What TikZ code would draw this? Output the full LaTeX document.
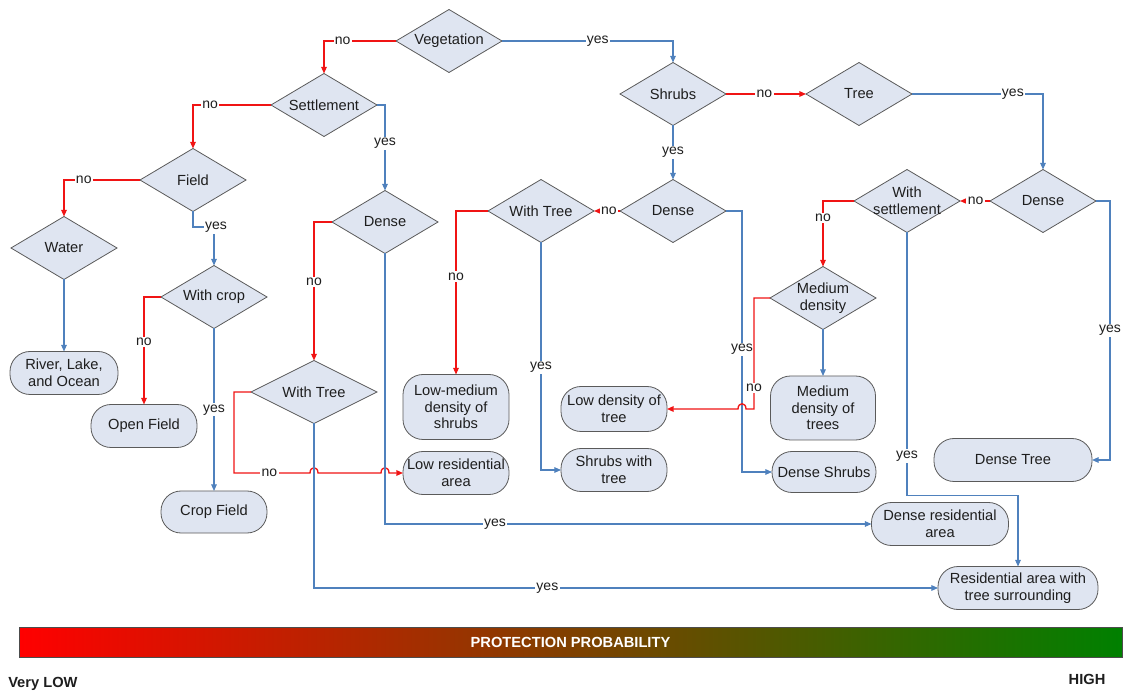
\documentclass[tikz,border=0pt]{standalone}
\usepackage{fontspec}
\setmainfont{Liberation Sans}
\usetikzlibrary{shapes.geometric,arrows.meta,calc}
\definecolor{yesblue}{RGB}{79,129,189}
\definecolor{nored}{RGB}{240,20,20}
\definecolor{boxfill}{RGB}{223,229,241}
\definecolor{boxline}{RGB}{90,90,90}
\definecolor{inkgray}{RGB}{30,30,30}
\definecolor{barred}{RGB}{255,0,0}
\definecolor{barmid}{RGB}{150,50,0}
\definecolor{bargreen}{RGB}{0,128,0}

\begin{document}
\begin{tikzpicture}[x=0.75pt,y=-0.75pt,
  every node/.style={text=inkgray, font=\fontsize{11}{12.5}\selectfont},
  decision/.style={diamond, draw=boxline, fill=boxfill, line width=0.6pt,
    minimum width=79.5pt, minimum height=47.25pt, inner sep=0pt, outer sep=0pt},
  widedecision/.style={decision, minimum width=94.5pt},
  dtext/.style={align=center, inner sep=0pt},
  outcome/.style={rectangle, rounded corners=15pt, draw=boxline, fill=boxfill,
    line width=0.6pt, align=center, inner sep=1pt, outer sep=0pt},
  yesline/.style={draw=yesblue, line width=0.9pt, -{Triangle[length=5pt,width=4.2pt]}},
  noline/.style={draw=nored, line width=1pt, -{Triangle[length=5pt,width=4.2pt]}},
  lab/.style={fill=white, inner sep=1pt, font=\fontsize{10.5}{12}\selectfont},
]
\useasboundingbox (0,0) rectangle (1125,691);

% ---------- decisions ----------
\node[decision] (veg) at (449,41) {};
\node[dtext] (veg-t) at (veg.center) {Vegetation};
\node[decision] (set) at (324,105) {};
\node[dtext] (set-t) at (set.center) {Settlement};
\node[decision] (field) at (193,180) {};
\node[dtext] (field-t) at (field.center) {Field};
\node[decision] (water) at (64,248) {};
\node[dtext] (water-t) at (water.center) {Water};
\node[decision] (crop) at (214,297) {};
\node[dtext] (crop-t) at (crop.center) {With crop};
\node[decision] (denseL) at (385,222) {};
\node[dtext] (denseL-t) at (denseL.center) {Dense};
\node[widedecision] (treeL) at (314,392) {};
\node[dtext] (treeL-t) at (treeL.center) {With Tree};
\node[decision] (treeM) at (541,211) {};
\node[dtext] (treeM-t) at (treeM.center) {With Tree};
\node[decision] (denseM) at (673,211) {};
\node[dtext] (denseM-t) at (denseM.center) {Dense};
\node[decision] (shrubs) at (673,94) {};
\node[dtext] (shrubs-t) at (shrubs.center) {Shrubs};
\node[decision] (tree) at (859,94) {};
\node[dtext] (tree-t) at (tree.center) {Tree};
\node[decision] (denseR) at (1043,201) {};
\node[dtext] (denseR-t) at (denseR.center) {Dense};
\node[decision] (settl) at (907,201) {};
\node[dtext] (settl-t) at (settl.center) {With\\settlement};
\node[decision] (medd) at (823,298) {};
\node[dtext] (medd-t) at (medd.center) {Medium\\density};

% ---------- outcomes ----------
\node[outcome, minimum width=81pt, minimum height=32.25pt] (river) at (64,373) {River, Lake,\\and Ocean};
\node[outcome, minimum width=79.5pt, minimum height=32.25pt] (openf) at (144,426) {Open Field};
\node[outcome, minimum width=79.5pt, minimum height=31.5pt] (cropf) at (214,512) {Crop Field};
\node[outcome, minimum width=79.5pt, minimum height=48.75pt] (lowmed) at (456,407) {Low-medium\\density of\\shrubs};
\node[outcome, minimum width=79.5pt, minimum height=32.25pt] (lowres) at (456,473) {Low residential\\area};
\node[outcome, minimum width=79.5pt, minimum height=33.75pt] (lowdt) at (614,409) {Low density of\\tree};
\node[outcome, minimum width=79.5pt, minimum height=32.25pt] (shrt) at (614,470) {Shrubs with\\tree};
\node[outcome, minimum width=78.75pt, minimum height=48pt] (meddt) at (823,408) {Medium\\density of\\trees};
\node[outcome, minimum width=78pt, minimum height=30.75pt] (dshr) at (824,472) {Dense Shrubs};
\node[outcome, minimum width=118.5pt, minimum height=32.25pt] (dtree) at (1013,460) {Dense Tree};
\node[outcome, minimum width=102.75pt, minimum height=32.25pt] (dres) at (940,524) {Dense residential\\area};
\node[outcome, minimum width=120pt, minimum height=32.25pt] (resT) at (1018,588) {Residential area with\\tree surrounding};

% ---------- helper points for line jumps and elbows ----------
\coordinate (fy) at (214,227);
\coordinate (jy) at ($(denseM.east)+(16,0)$);
\coordinate (c1) at (treeL.south |- lowres.west);
\coordinate (c2) at (denseL.south |- lowres.west);
\coordinate (c3) at (jy |- lowdt.east);

% ---------- connectors ----------
\draw[noline] (veg.west) -| node[lab, pos=0.37]{no} (set.north);
\draw[yesline] (veg.east) -| node[lab, pos=0.28]{yes} (shrubs.north);
\draw[noline] (set.west) -| node[lab, pos=0.39]{no} (field.north);
\draw[yesline] (set.east) -| node[lab, pos=0.725]{yes} (denseL.north);
\draw[noline] (field.west) -| node[lab, pos=0.37]{no} (water.north);
\draw[yesline] (field.south) |- (fy) -- (crop.north);
\node[lab] (fy-l) at ($(fy)+(2,0)$) {yes};
\draw[yesline] (water.south) -- (river.north);
\draw[noline] (crop.west) -| node[lab, pos=0.71]{no} (openf.north);
\draw[yesline] (crop.south) -- node[lab, pos=0.5]{yes} (cropf.north);
\draw[noline] (denseL.west) -| node[lab, pos=0.716]{no} (treeL.north);
\draw[noline] (treeL.west) -- ++(-17,0) |- node[lab, pos=0.733]{no} ($(c1)+(-4,0)$)
  .. controls +(0,-7) and +(0,-7) .. ($(c1)+(4,0)$) -- ($(c2)+(-4,0)$)
  .. controls +(0,-7) and +(0,-7) .. ($(c2)+(4,0)$) -- (lowres.west);
\draw[yesline] (treeL.south) |- node[lab, pos=0.687]{yes} (resT.west);
\draw[yesline] (denseL.south) |- node[lab, pos=0.613]{yes} (dres.west);
\draw[noline] (shrubs.east) -- node[lab, pos=0.48]{no} (tree.west);
\draw[yesline] (shrubs.south) -- node[lab, pos=0.5]{yes} (denseM.north);
\draw[yesline] (tree.east) -| node[lab, pos=0.385]{yes} (denseR.north);
\draw[noline] (denseM.west) -- node[lab, pos=0.43]{no} (treeM.east);
\draw[yesline] (denseM.east) -- (jy) |- node[lab, pos=0.265]{yes} (dshr.west);
\draw[noline] (treeM.west) -| node[lab, pos=0.70]{no} (lowmed.north);
\draw[yesline] (treeM.south) |- node[lab, pos=0.274]{yes} (shrt.west);
\draw[noline] (denseR.west) -- node[lab, pos=0.48]{no} (settl.east);
\draw[yesline] (denseR.east) -- ++(14,0) |- node[lab, pos=0.25]{yes} (dtree.east);
\draw[noline] (settl.west) -| node[lab, pos=0.63]{no} (medd.north);
\draw[yesline] (settl.south) -- node[lab, pos=0.85]{yes} ++(0,263) -| (resT.north);
\draw[noline] (medd.west) -- ++(-16,0) |- node[lab, pos=0.405]{no} ($(c3)+(4,0)$)
  .. controls +(0,-7) and +(0,-7) .. ($(c3)+(-4,0)$) -- (lowdt.east);
\draw[yesline] (medd.south) -- (meddt.north);

% ---------- probability scale ----------
\node[draw=black!70, line width=0.5pt, left color=barred, middle color=barmid,
  right color=bargreen, minimum width=827.25pt, minimum height=22.5pt,
  inner sep=0pt, text=white, font=\bfseries\fontsize{11}{12}\selectfont]
  (probbar) at (570.5,642) {PROTECTION PROBABILITY};
\node[anchor=west, inner sep=0pt, font=\bfseries\fontsize{11}{12}\selectfont]
  (lowend) at (8,684) {Very LOW};
\node[inner sep=0pt, font=\bfseries\fontsize{11}{12}\selectfont]
  (highend) at (1087,679) {HIGH};
\end{tikzpicture}
\end{document}
